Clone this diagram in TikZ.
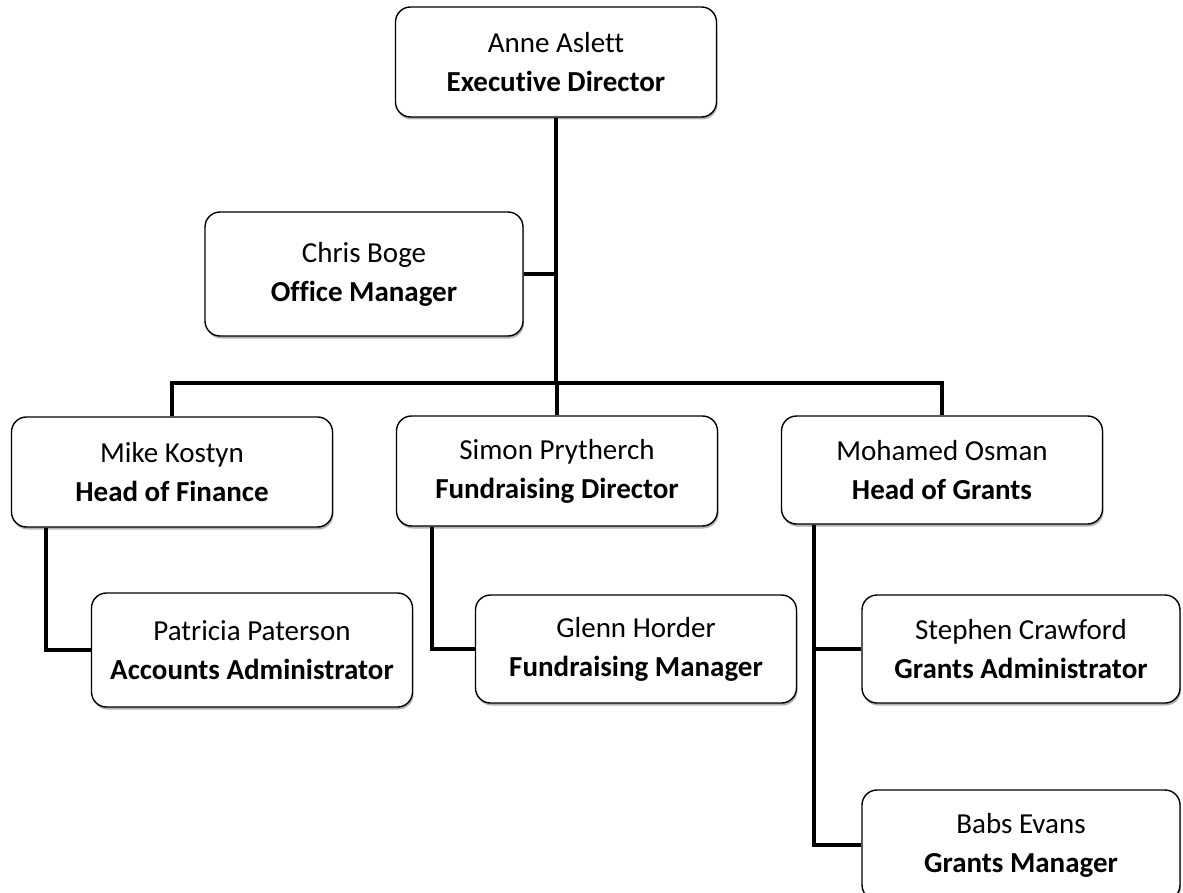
\documentclass[tikz,border=0pt]{standalone}
\usepackage{fontspec}
\setmainfont[Ligatures=NoCommon]{Carlito}
\usetikzlibrary{shadows}
\tikzset{
  staff/.style={draw, line width=1.4pt, rounded corners=15pt, fill=white,
    minimum width=321pt, minimum height=110pt, align=center,
    font=\fontsize{29}{39}\selectfont,
    drop shadow={shadow xshift=1pt, shadow yshift=-2.5pt, fill=gray!60, opacity=1}},
  link/.style={line width=4pt}
}
\begin{document}
\begin{tikzpicture}[x=1pt, y=-1pt]
    \useasboundingbox (0,0) rectangle (1183,893);
    \clip (0,0) rectangle (1183,893);
    % Top
    \node[staff] (ed) at (556,62) {Anne Aslett\\\textbf{Executive Director}};
    \node[staff, minimum width=318pt, minimum height=124pt] (om) at (364,274) {Chris Boge\\\textbf{Office Manager}};
    % Heads
    \node[staff] (hf) at (172,472) {Mike Kostyn\\\textbf{Head of Finance}};
    \node[staff] (fd) at (557,471) {Simon Prytherch\\\textbf{Fundraising Director}};
    \node[staff, minimum height=108pt] (hg) at (942,470) {Mohamed Osman\\\textbf{Head of Grants}};
    % Staff
    \node[staff, minimum height=114pt] (aa) at (252,650) {Patricia Paterson\\\textbf{Accounts Administrator}};
    \node[staff, minimum height=108pt] (fm) at (636,649) {Glenn Horder\\\textbf{Fundraising Manager}};
    \node[staff, minimum width=318pt, minimum height=108pt] (ga) at (1021,649) {Stephen Crawford\\\textbf{Grants Administrator}};
    \node[staff, minimum width=318pt] (gm) at (1021,845) {Babs Evans\\\textbf{Grants Manager}};
    % Bar
    \coordinate (bar) at (558,383);
    % Links
    \draw[link] (ed.south) -- (ed.south |- bar);
    \draw[link] (om.east) -- (om.east -| bar);
    \draw[link] (hf.north) |- (bar) -| (hg.north);
    \draw[link] (fd.north) -- (fd.north |- bar);
    \draw[link] ([xshift=35pt]hf.south west) |- (aa.west);
    \draw[link] ([xshift=36pt]fd.south west) |- (fm.west);
    \draw[link] ([xshift=33pt]hg.south west) |- (ga.west);
    \draw[link] ([xshift=33pt]hg.south west) |- (gm.west);
\end{tikzpicture}
\end{document}
